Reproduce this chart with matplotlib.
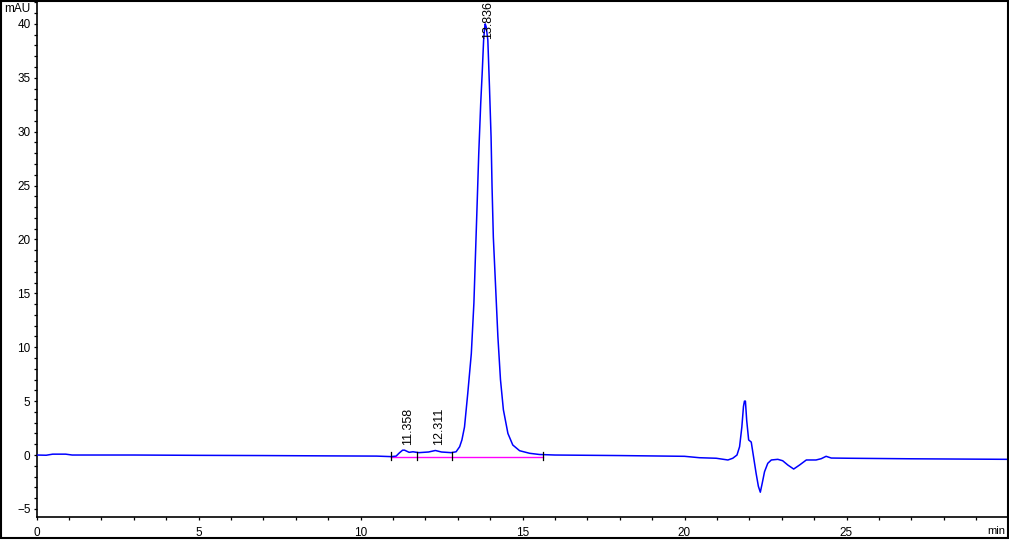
import matplotlib

matplotlib.use("Agg")
import matplotlib.pyplot as plt
from matplotlib.patches import Rectangle
from matplotlib.ticker import MultipleLocator, FixedLocator

# -- signal (min, mAU) -----------------------------------------------------------
time = [
    0.0, 0.3, 0.5, 0.9, 1.1, 3.0, 5.0, 7.0, 9.0, 10.5, 10.95,
    11.1, 11.2, 11.3, 11.36, 11.5, 11.62, 11.8, 12.1, 12.31, 12.5, 12.8, 12.95,
    13.06, 13.13, 13.21, 13.31, 13.42, 13.5, 13.55, 13.6, 13.65, 13.71, 13.76,
    13.8, 13.83, 13.85, 13.88, 13.93, 13.98, 14.03, 14.06, 14.1, 14.17, 14.24,
    14.32, 14.41, 14.55, 14.7, 14.91, 15.22, 15.52, 16.0, 18.0, 20.0, 20.46,
    20.98, 21.34, 21.49, 21.62, 21.7, 21.77, 21.82, 21.85, 21.88, 21.92, 21.98,
    22.06, 22.13, 22.21, 22.28, 22.34, 22.4, 22.47, 22.57, 22.68, 22.88, 23.03,
    23.19, 23.37, 23.55, 23.76, 24.06, 24.22, 24.37, 24.53, 25.09, 27.0, 30.0,
]
signal = [
    0.0, -0.02, 0.08, 0.08, 0.0, 0.0, -0.03, -0.05, -0.08, -0.1, -0.15,
    -0.1, 0.2, 0.45, 0.45, 0.25, 0.3, 0.22, 0.28, 0.42, 0.28, 0.22, 0.3,
    0.77, 1.4, 2.6, 5.7, 9.4, 14.1, 18.7, 23.3, 28.0, 32.6, 35.7,
    38.5, 39.6, 40.0, 39.7, 38.5, 34.2, 29.5, 24.9, 20.2, 15.6, 11.0,
    7.0, 4.2, 2.0, 0.93, 0.4, 0.16, 0.05, 0.0, -0.05, -0.12, -0.25,
    -0.3, -0.46, -0.3, 0.0, 0.77, 2.6, 4.5, 5.0, 5.0, 3.2, 1.4,
    1.2, -0.15, -1.7, -2.9, -3.45, -2.6, -1.55, -0.77, -0.46, -0.4, -0.53,
    -0.93, -1.3, -0.93, -0.46, -0.46, -0.34, -0.12, -0.28, -0.3, -0.35, -0.4,
]

# integration: peak labels, label foot height, baseline and event marks
peak_rt = [11.358, 12.311, 13.836]
label_y = [0.95, 0.95, 38.6]
base_start, base_end, base_level = 10.95, 15.63, -0.2
event_marks = [10.95, 11.74, 12.82, 15.63]
x_labelled = [0, 5, 10, 15, 20, 25]

FONT = ["Liberation Sans Narrow", "Liberation Sans", "DejaVu Sans"]
W, H = 1009, 540

fig = plt.figure(figsize=(W / 100, H / 100), dpi=100)
ax = fig.add_axes([36.5 / W, 23 / H, 972 / W, 514.7 / H])

ax.plot([base_start, base_end], [base_level, base_level],
        color="#ff00ff", lw=1.0, zorder=2)
ax.plot(time, signal, color="#0000ff", lw=1.1, zorder=3)
for t in event_marks:
    ax.plot([t, t], [base_level - 0.3, base_level + 0.45], color="black", lw=0.9, zorder=4)

for rt, ly in zip(peak_rt, label_y):
    ax.text(rt + 0.1, ly, f"{rt:.3f}", rotation=90, ha="center", va="bottom",
            fontsize=9, family=FONT, zorder=5)

ax.set_xlim(0, 30)
ax.set_ylim(-5.75, 42)
ax.xaxis.set_major_locator(FixedLocator(x_labelled))
ax.xaxis.set_minor_locator(MultipleLocator(1))
ax.yaxis.set_major_locator(MultipleLocator(5))
ax.yaxis.set_minor_locator(MultipleLocator(1))
ax.tick_params(which="both", direction="out", length=2.3, width=0.9, colors="black")
ax.tick_params(axis="x", pad=5)
ax.tick_params(axis="y", pad=2)
for lab in ax.get_xticklabels() + ax.get_yticklabels():
    lab.set_family(FONT)
    lab.set_fontsize(8.5)
ax.spines["top"].set_visible(False)
ax.spines["right"].set_visible(False)
ax.spines["left"].set_linewidth(1.2)
ax.spines["bottom"].set_linewidth(1.2)

fig.text(30 / W, 1 - 9 / H, "mAU", ha="right", va="center", fontsize=8.5, family=FONT)
fig.text(1005 / W, 1 - 531 / H, "min", ha="right", va="center", fontsize=8, family=FONT)

fig.patches.append(Rectangle((0.5 / W, 2 / H), (W - 2) / W, (H - 3) / H, transform=fig.transFigure,
                             fill=False, edgecolor="black", lw=1.5))

fig.savefig("out.png", dpi=100)
